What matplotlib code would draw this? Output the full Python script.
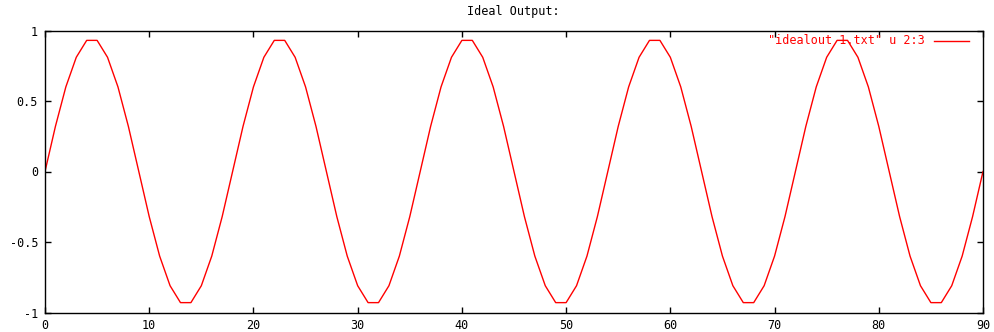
import matplotlib
matplotlib.use("Agg")
import matplotlib.pyplot as plt
from matplotlib.lines import Line2D

# Sample index (column 2) and ideal output value (column 3)
x_values = list(range(0, 91))
y_values = [
    0.00, 0.32, 0.60, 0.81, 0.93, 0.93, 0.81, 0.60, 0.32,
    0.00, -0.32, -0.60, -0.81, -0.93, -0.93, -0.81, -0.60, -0.32,
    0.00, 0.32, 0.60, 0.81, 0.93, 0.93, 0.81, 0.60, 0.32,
    0.00, -0.32, -0.60, -0.81, -0.93, -0.93, -0.81, -0.60, -0.32,
    0.00, 0.32, 0.60, 0.81, 0.93, 0.93, 0.81, 0.60, 0.32,
    0.00, -0.32, -0.60, -0.81, -0.93, -0.93, -0.81, -0.60, -0.32,
    0.00, 0.32, 0.60, 0.81, 0.93, 0.93, 0.81, 0.60, 0.32,
    0.00, -0.32, -0.60, -0.81, -0.93, -0.93, -0.81, -0.60, -0.32,
    0.00, 0.32, 0.60, 0.81, 0.93, 0.93, 0.81, 0.60, 0.32,
    0.00, -0.32, -0.60, -0.81, -0.93, -0.93, -0.81, -0.60, -0.32,
    0.00,
]

x_ticks = [0, 10, 20, 30, 40, 50, 60, 70, 80, 90]
x_tick_labels = ["0", "10", "20", "30", "40", "50", "60", "70", "80", "90"]
y_ticks = [-1, -0.5, 0, 0.5, 1]
y_tick_labels = ["-1", "-0.5", "0", "0.5", "1"]

title_text = "Ideal Output:"
series_label = '"idealout 1.txt" u 2:3'

W, H = 995, 332
fig = plt.figure(figsize=(W / 100, H / 100), dpi=100)
fig.patch.set_facecolor("white")

left, right, top, bottom = 45, 983, 30.5, 312.5
ax = fig.add_axes([left / W, 1 - bottom / H, (right - left) / W, (bottom - top) / H])

mono = "DejaVu Sans Mono"
fsize = 8.5

ax.plot(x_values, y_values, color="#ff0000", linewidth=1.0)

ax.set_xlim(0, 90)
ax.set_ylim(-1, 1)
ax.set_xticks(x_ticks)
ax.set_xticklabels(x_tick_labels, fontfamily=mono, fontsize=fsize)
ax.set_yticks(y_ticks)
ax.set_yticklabels(y_tick_labels, fontfamily=mono, fontsize=fsize)
ax.tick_params(axis="both", direction="in", length=4, width=1, color="black",
               top=True, right=True, pad=5)

for spine in ax.spines.values():
    spine.set_color("black")
    spine.set_linewidth(1.0)

fig.text(513 / W, 1 - 12 / H, title_text, ha="center", va="center",
         fontfamily=mono, fontsize=fsize, color="black")

# Key entry in the upper right corner
fig.text(925 / W, 1 - 41 / H, series_label, ha="right", va="center",
         fontfamily=mono, fontsize=fsize, color="#ff0000")
fig.add_artist(Line2D([934 / W, 969 / W], [1 - 41 / H, 1 - 41 / H],
                      transform=fig.transFigure, color="#ff0000", linewidth=1.0))

fig.savefig("out.png", dpi=100, facecolor="white")
